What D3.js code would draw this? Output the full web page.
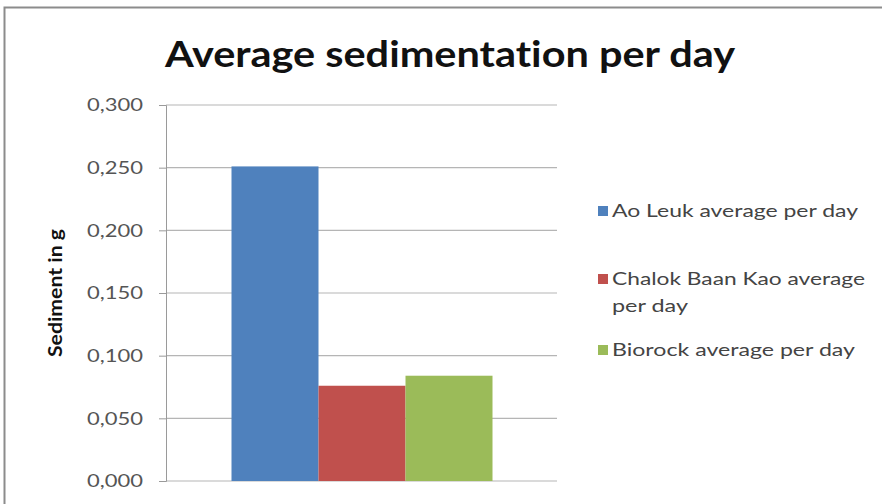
<!DOCTYPE html>
<html><head><meta charset="utf-8">
<script src="https://cdn.jsdelivr.net/npm/d3@7"></script>
<style>body{margin:0;background:#fff}svg{display:block}</style>
</head><body>
<script>
const categories = ["Ao Leuk average per day", "Chalok Baan Kao average per day", "Biorock average per day"];
const values = [0.251, 0.076, 0.084];
const colors = ["#4F81BD", "#C0504D", "#9BBB59"];
const yTicks = [0, 0.05, 0.1, 0.15, 0.2, 0.25, 0.3];
const legendLines = [["Ao Leuk average per day"], ["Chalok Baan Kao average", "per day"], ["Biorock average per day"]];

const W = 882, H = 504;
const svg = d3.select("body").append("svg").attr("width", W).attr("height", H);
const font = "Lato, 'Open Sans', sans-serif";

svg.append("rect").attr("x", 4.5).attr("y", 7.5).attr("width", W + 10).attr("height", H + 10)
  .attr("fill", "#fff").attr("stroke", "#8c8c8c").attr("stroke-width", 2);

svg.append("text").attr("x", 165).attr("y", 67)
  .attr("font-family", font).attr("font-weight", "bold").attr("font-size", 37)
  .style("font-variant-ligatures", "none")
  .attr("textLength", 570).attr("lengthAdjust", "spacingAndGlyphs")
  .attr("fill", "#111").text("Average sedimentation per day");

const x0 = 166, x1 = 557, yTop = 105, yBot = 481;
const y = d3.scaleLinear().domain([0, 0.3]).range([yBot, yTop]);
const xb = d3.scaleBand().domain(categories).range([231.5, 492.5]).paddingInner(0);

svg.append("g").selectAll("line").data(yTicks).join("line")
  .attr("x1", x0).attr("x2", x1).attr("y1", d => y(d)).attr("y2", d => y(d))
  .attr("stroke", "#b5b5b5").attr("stroke-width", 1.2);

const yAxis = d3.axisLeft(y).tickValues(yTicks).tickSize(7)
  .tickFormat(d => d3.format(".3f")(d).replace(".", ","));
const ga = svg.append("g").attr("transform", `translate(${x0},0)`).call(yAxis);
ga.select(".domain").attr("stroke", "#9a9a9a");
ga.selectAll(".tick line").attr("stroke", "#9a9a9a");
ga.selectAll(".tick text").attr("font-family", font).attr("font-size", 18)
  .attr("fill", "#555").attr("x", -23)
  .attr("textLength", 56).attr("lengthAdjust", "spacingAndGlyphs");

svg.append("g").selectAll("rect").data(values).join("rect")
  .attr("x", (d, i) => xb(categories[i])).attr("width", xb.bandwidth())
  .attr("y", d => y(d)).attr("height", d => yBot - y(d))
  .attr("fill", (d, i) => colors[i]);

svg.append("text").attr("transform", "translate(62,293) rotate(-90)")
  .attr("text-anchor", "middle").attr("font-family", font).attr("font-weight", "bold")
  .attr("font-size", 19).attr("fill", "#111")
  .attr("textLength", 128).attr("lengthAdjust", "spacingAndGlyphs").text("Sediment in g");

const legY = [211, 279, 350];
const legW = [[246], [253, 76], [243]];
const lg = svg.append("g");
legendLines.forEach((lines, i) => {
  lg.append("rect").attr("x", 598).attr("y", legY[i] - 5).attr("width", 10).attr("height", 10).attr("fill", colors[i]);
  lines.forEach((t, j) => {
    lg.append("text").attr("x", 612).attr("y", legY[i] + 6 + j * 27)
      .attr("font-family", font).attr("font-size", 18).attr("fill", "#444")
      .attr("textLength", legW[i][j]).attr("lengthAdjust", "spacingAndGlyphs").text(t);
  });
});
</script>
</body></html>
